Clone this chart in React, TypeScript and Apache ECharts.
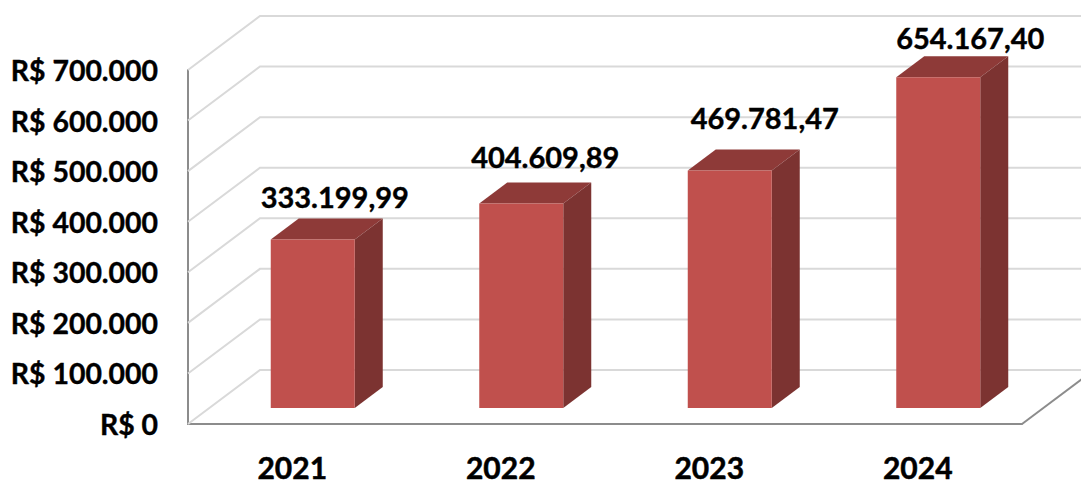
import React, { useEffect, useRef } from "react";
import * as echarts from "echarts";

const categories = ["2021", "2022", "2023", "2024"];
const values = [333199.99, 404609.89, 469781.47, 654167.4];
const valueLabels = ["333.199,99", "404.609,89", "469.781,47", "654.167,40"];
const gridTicks = [0, 100000, 200000, 300000, 400000, 500000, 600000, 700000];
const labelNudge = [[22, -43], [24, -47], [35, -53], [32, -40]];

const WALL_DX = 72;
const WALL_DY = -54;
const BAR_SHIFT_X = 20.5;
const BAR_SHIFT_Y = -16;
const BAR_W = 84;
const DEPTH_X = 28;
const DEPTH_Y = -21;
const FONT = "Lato, Carlito, sans-serif";

const fmtAxis = (v: number) =>
  "R$ " + (v === 0 ? "0" : String(v).replace(/\B(?=(\d{3})+$)/g, "."));

export default function App() {
  const ref = useRef<HTMLDivElement>(null);
  useEffect(() => {
    const chart = echarts.init(ref.current!, undefined, { renderer: "svg" });
    chart.setOption({
      animation: false,
      backgroundColor: "#fff",
      grid: { left: 188, right: 59, top: 70, bottom: 61, outerBoundsMode: "none" },
      xAxis: {
        type: "category",
        data: categories,
        axisTick: { show: false },
        axisLine: { lineStyle: { color: "#8c8c8c", width: 2 } },
        axisLabel: {
          fontFamily: FONT,
          fontWeight: 700,
          fontSize: 30,
          lineHeight: 26,
          color: "#000",
          margin: 30,
          textBorderColor: "#000",
          textBorderWidth: 0.5,
        },
      },
      yAxis: {
        type: "value",
        min: 0,
        max: 700000,
        interval: 100000,
        splitLine: { show: false },
        axisTick: { show: false },
        axisLine: { show: true, lineStyle: { color: "#8c8c8c", width: 2 } },
        axisLabel: {
          fontFamily: FONT,
          fontWeight: 700,
          fontSize: 28.4,
          color: "#000",
          margin: 30,
          textBorderColor: "#000",
          textBorderWidth: 0.4,
          formatter: fmtAxis,
        },
      },
      series: [
        {
          type: "custom",
          silent: true,
          clip: false,
          z: 1,
          data: gridTicks.map((t) => [0, t]),
          renderItem: (params: any, api: any) => {
            const cs = params.coordSys;
            const y = api.coord([0, api.value(1)])[1];
            const x0 = cs.x;
            const x1 = cs.x + cs.width;
            const style = { stroke: "#d9d9d9", lineWidth: 2, fill: "none" };
            return {
              type: "polyline",
              shape: { points: [[x0, y], [x0 + WALL_DX, y + WALL_DY], [x1 + WALL_DX, y + WALL_DY]] },
              style,
            };
          },
        },
        {
          type: "custom",
          silent: true,
          clip: false,
          z: 2,
          data: [[0, 0]],
          renderItem: (params: any, api: any) => {
            const cs = params.coordSys;
            const y = api.coord([0, 0])[1];
            const x1 = cs.x + cs.width;
            return {
              type: "line",
              shape: { x1, y1: y, x2: x1 + WALL_DX, y2: y + WALL_DY },
              style: { stroke: "#8c8c8c", lineWidth: 2 },
            };
          },
        },
        {
          type: "custom",
          silent: true,
          clip: false,
          z: 3,
          data: values.map((v, i) => [i, v]),
          renderItem: (params: any, api: any) => {
            const i = api.value(0);
            const c = api.coord([i, api.value(1)]);
            const base = api.coord([i, 0]);
            const xl = c[0] + BAR_SHIFT_X - BAR_W / 2;
            const xr = xl + BAR_W;
            const yt = c[1] + BAR_SHIFT_Y;
            const yb = base[1] + BAR_SHIFT_Y;
            const [nx, ny] = labelNudge[i];
            return {
              type: "group",
              children: [
                {
                  type: "polygon",
                  shape: { points: [[xl, yt], [xl + DEPTH_X, yt + DEPTH_Y], [xr + DEPTH_X, yt + DEPTH_Y], [xr, yt]] },
                  style: { fill: "#8e3a38" },
                },
                {
                  type: "polygon",
                  shape: { points: [[xr, yt], [xr + DEPTH_X, yt + DEPTH_Y], [xr + DEPTH_X, yb + DEPTH_Y], [xr, yb]] },
                  style: { fill: "#7c3331" },
                },
                {
                  type: "rect",
                  shape: { x: xl, y: yt, width: BAR_W, height: yb - yt },
                  style: { fill: "#c0504d" },
                },
                {
                  type: "text",
                  style: {
                    x: c[0] + BAR_SHIFT_X + nx,
                    y: yt + ny,
                    text: valueLabels[i],
                    fill: "#000",
                    stroke: "#000",
                    lineWidth: 0.4,
                    font: `700 29px ${FONT}`,
                    align: "center",
                    verticalAlign: "middle",
                  },
                },
              ],
            };
          },
        },
      ],
    });
    return () => chart.dispose();
  }, []);
  return <div ref={ref} style={{ position: "absolute", left: 0, top: 0, width: 1081, height: 485 }} />;
}
